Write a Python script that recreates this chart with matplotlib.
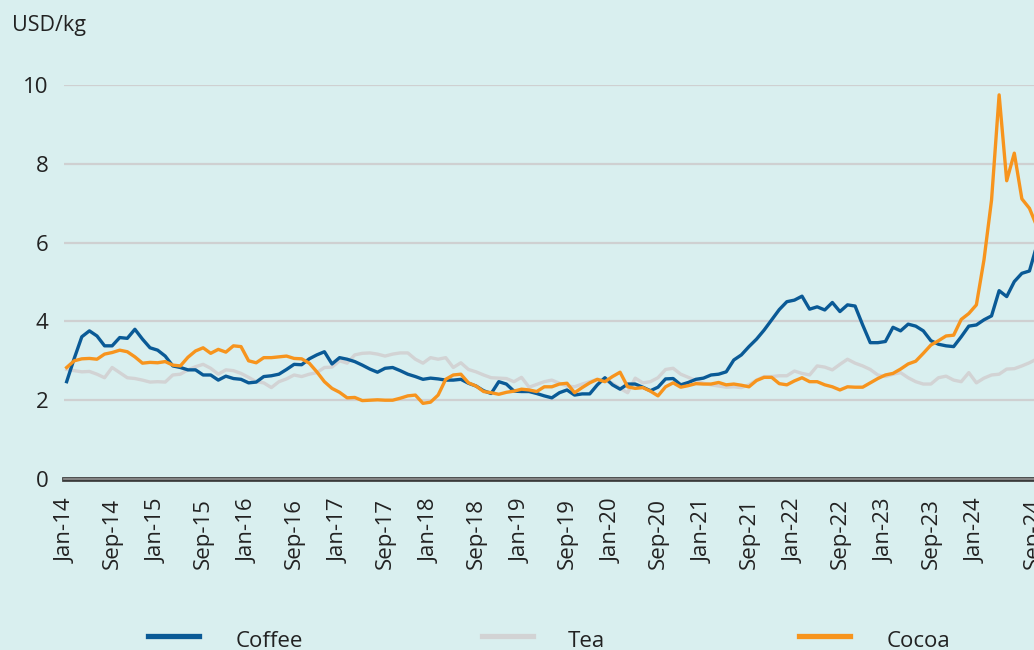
import numpy as np
import matplotlib.pyplot as plt
from matplotlib.lines import Line2D

# Monthly prices, USD/kg, Jan 2014 onwards
coffee = [
    2.47, 3.06, 3.61, 3.76, 3.63, 3.38, 3.38, 3.59, 3.57, 3.80, 3.55, 3.33,
    3.27, 3.12, 2.87, 2.83, 2.77, 2.77, 2.64, 2.64, 2.51, 2.61, 2.55, 2.53,
    2.44, 2.46, 2.60, 2.62, 2.66, 2.78, 2.91, 2.90, 3.05, 3.15, 3.23, 2.92,
    3.08, 3.04, 2.98, 2.89, 2.79, 2.71, 2.81, 2.83, 2.75, 2.66, 2.60, 2.53,
    2.56, 2.54, 2.51, 2.51, 2.53, 2.43, 2.36, 2.24, 2.17, 2.47, 2.41, 2.23,
    2.22, 2.22, 2.17, 2.11, 2.06, 2.19, 2.26, 2.13, 2.16, 2.16, 2.39, 2.57,
    2.39, 2.28, 2.41, 2.41, 2.33, 2.24, 2.33, 2.54, 2.55, 2.39, 2.45, 2.53,
    2.56, 2.64, 2.66, 2.72, 3.02, 3.15, 3.36, 3.55, 3.78, 4.04, 4.30, 4.50,
    4.54, 4.64, 4.31, 4.37, 4.29, 4.48, 4.25, 4.42, 4.39, 3.91, 3.46, 3.46,
    3.49, 3.85, 3.76, 3.93, 3.88, 3.76, 3.51, 3.42, 3.38, 3.36, 3.61, 3.88,
    3.91, 4.04, 4.14, 4.78, 4.63, 5.01, 5.22, 5.28, 5.95,
]
tea = [
    2.78, 2.75, 2.72, 2.73, 2.66, 2.57, 2.83, 2.70, 2.57, 2.55, 2.51, 2.46,
    2.47, 2.46, 2.64, 2.66, 2.77, 2.85, 2.91, 2.81, 2.66, 2.77, 2.75, 2.68,
    2.58, 2.47, 2.44, 2.32, 2.47, 2.54, 2.64, 2.60, 2.66, 2.70, 2.83, 2.84,
    3.00, 2.94, 3.15, 3.19, 3.20, 3.17, 3.12, 3.17, 3.20, 3.20, 3.04, 2.94,
    3.08, 3.04, 3.08, 2.83, 2.95, 2.78, 2.72, 2.64, 2.57, 2.56, 2.55, 2.47,
    2.58, 2.33, 2.40, 2.47, 2.51, 2.43, 2.36, 2.34, 2.41, 2.47, 2.53, 2.50,
    2.43, 2.30, 2.19, 2.56, 2.44, 2.47, 2.57, 2.78, 2.81, 2.66, 2.58, 2.50,
    2.43, 2.39, 2.36, 2.33, 2.34, 2.32, 2.39, 2.51, 2.60, 2.60, 2.62, 2.62,
    2.74, 2.68, 2.64, 2.87, 2.84, 2.77, 2.91, 3.04, 2.94, 2.87, 2.78, 2.64,
    2.60, 2.66, 2.70, 2.57, 2.47, 2.41, 2.41, 2.57, 2.61, 2.51, 2.47, 2.70,
    2.44, 2.56, 2.64, 2.66, 2.79, 2.80, 2.87, 2.95, 3.05,
]
cocoa = [
    2.83, 3.00, 3.05, 3.06, 3.04, 3.17, 3.21, 3.27, 3.23, 3.10, 2.94, 2.96,
    2.95, 2.98, 2.89, 2.87, 3.09, 3.25, 3.33, 3.19, 3.29, 3.22, 3.38, 3.36,
    3.00, 2.95, 3.08, 3.08, 3.10, 3.12, 3.06, 3.05, 2.94, 2.72, 2.47, 2.30,
    2.20, 2.06, 2.07, 1.99, 2.00, 2.01, 2.00, 2.00, 2.05, 2.11, 2.13, 1.92,
    1.95, 2.13, 2.53, 2.64, 2.66, 2.44, 2.36, 2.22, 2.19, 2.15, 2.20, 2.23,
    2.28, 2.26, 2.22, 2.34, 2.34, 2.41, 2.43, 2.19, 2.32, 2.44, 2.53, 2.47,
    2.60, 2.71, 2.34, 2.30, 2.32, 2.23, 2.11, 2.34, 2.44, 2.33, 2.37, 2.42,
    2.41, 2.41, 2.45, 2.39, 2.41, 2.38, 2.34, 2.50, 2.58, 2.58, 2.42, 2.39,
    2.49, 2.57, 2.47, 2.47, 2.39, 2.34, 2.26, 2.34, 2.33, 2.33, 2.44, 2.55,
    2.64, 2.68, 2.79, 2.92, 2.99, 3.19, 3.40, 3.51, 3.63, 3.65, 4.05, 4.20,
    4.42, 5.56, 7.08, 9.75, 7.57, 8.27, 7.11, 6.87, 6.40,
]

tick_labels = [
    "Jan-14", "Sep-14", "Jan-15", "Sep-15", "Jan-16", "Sep-16", "Jan-17",
    "Sep-17", "Jan-18", "Sep-18", "Jan-19", "Sep-19", "Jan-20", "Sep-20",
    "Jan-21", "Sep-21", "Jan-22", "Sep-22", "Jan-23", "Sep-23", "Jan-24",
    "Sep-24",
]
series_names = ["Coffee", "Tea", "Cocoa"]

BG = "#d9efef"
COLORS = {"Coffee": "#0a5a96", "Tea": "#d2d3d4", "Cocoa": "#f7941d"}
TEXT = "#222222"

plt.rcParams["font.family"] = ["Open Sans", "DejaVu Sans"]

fig = plt.figure(figsize=(10.34, 6.5), dpi=100, facecolor=BG)
ax = fig.add_axes([64 / 1034, 171 / 650, 1 - 64 / 1034, 394 / 650])
ax.set_facecolor(BG)

x = np.arange(len(coffee))
ax.plot(x, tea, color=COLORS["Tea"], lw=2.4, zorder=3)
ax.plot(x, coffee, color=COLORS["Coffee"], lw=2.4, zorder=4)
ax.plot(x, cocoa, color=COLORS["Cocoa"], lw=2.4, zorder=5)

ax.set_xlim(-0.35, 127.6)
ax.set_ylim(0, 10)

for s in ax.spines.values():
    s.set_visible(False)

ax.set_yticks([0, 2, 4, 6, 8, 10])
ax.yaxis.grid(True, color="#cfd0d1", lw=1.6)
ax.set_axisbelow(True)
ax.axhline(0, color="#3a3a3a", lw=3.4, zorder=6, clip_on=False)
ax.axhline(0, color="#8c8c8c", lw=1.3, zorder=7, clip_on=False)

xt = list(range(0, 121, 6)) + [127.5]
ax.set_xticks(xt)
ax.set_xticklabels(tick_labels, rotation=90)
ax.tick_params(axis="x", length=0, pad=14, labelsize=16, labelcolor=TEXT)
ax.tick_params(axis="y", length=0, pad=11, labelsize=16, labelcolor=TEXT)

fig.text(12 / 1034, 1 - 25 / 650, "USD/kg", fontsize=15.5, color=TEXT, va="center")

# legend row along the bottom
legend_pos = [(148, 236), (482, 568), (799, 887)]
for name, (lx, tx) in zip(series_names, legend_pos):
    fig.add_artist(Line2D([lx / 1034, (lx + 51) / 1034], [1 - 635.5 / 650] * 2,
                          color=COLORS[name], lw=3.8))
    fig.text(tx / 1034, 3 / 650, name, fontsize=16, color=TEXT, va="baseline")

fig.savefig("out.png", dpi=100, facecolor=BG)
